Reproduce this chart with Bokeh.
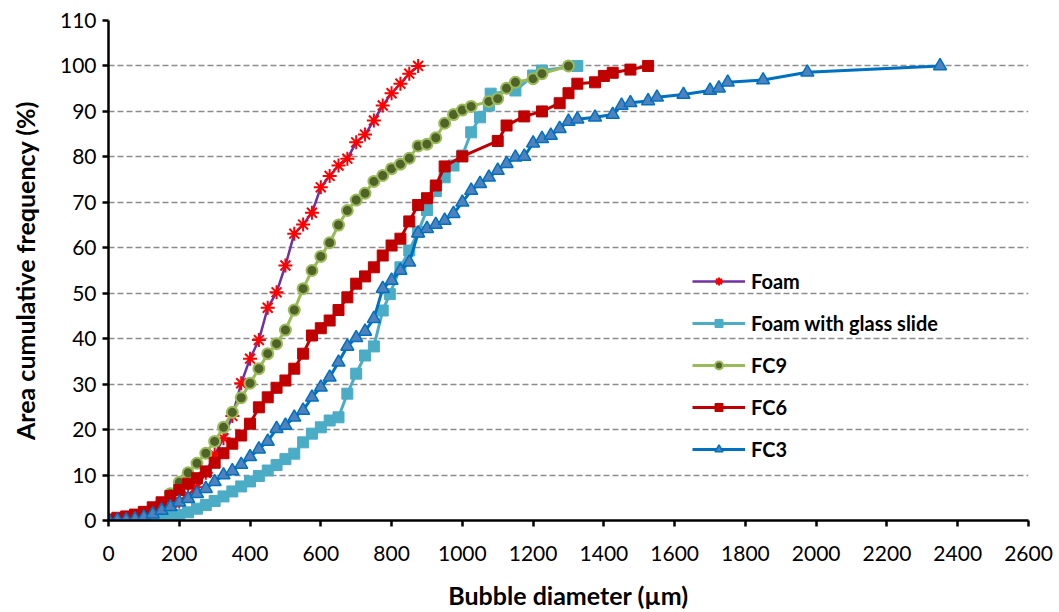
from bokeh.plotting import figure
from bokeh.models import Range1d, FixedTicker, Legend, LegendItem
from bokeh.embed import file_html
from bokeh.resources import INLINE

# ---------------- data ----------------
x_ticks = [0, 200, 400, 600, 800, 1000, 1200, 1400, 1600, 1800, 2000, 2200, 2400, 2600]
y_ticks = [0, 10, 20, 30, 40, 50, 60, 70, 80, 90, 100, 110]

foam_x = [0, 25, 50, 75, 100, 125, 150, 175, 200, 225, 250, 275, 300, 325, 350, 375,
          400, 425, 450, 475, 500, 525, 550, 575, 600, 625, 650, 675, 700, 725, 750,
          775, 800, 825, 850, 875]
foam_y = [0, 0, 0.1, 0.3, 0.7, 1.2, 2.0, 3.0, 4.2, 5.6, 7.3, 10.5, 14.5, 18.1, 23.0, 30.2,
          35.6, 39.7, 46.8, 50.2, 56.1, 63.1, 65.1, 67.7, 73.3, 75.8, 78.1, 79.6, 83.2, 84.9, 88.0,
          91.3, 94.0, 96.1, 98.3, 100]

glass_x = [0, 25, 50, 75, 100, 125, 150, 175, 200, 225, 250, 275, 300, 325, 350, 375,
           400, 425, 450, 475, 500, 525, 550, 575, 600, 625, 650, 675, 700, 725, 750,
           775, 795, 825, 850, 875, 900, 925, 950, 975, 1000, 1025, 1050, 1075, 1080,
           1150, 1200, 1225, 1325]
glass_y = [0, 0, 0.05, 0.1, 0.2, 0.3, 0.5, 0.8, 1.2, 1.8, 2.6, 3.4, 4.3, 5.3, 6.4, 7.5,
           8.6, 9.8, 11.0, 12.2, 13.5, 14.7, 17.2, 19.1, 20.5, 22.0, 22.7, 27.9, 32.3, 36.3, 38.3,
           46.2, 49.8, 55.7, 59.4, 63.5, 68.3, 72.5, 75.5, 78.1, 80.3, 85.4, 88.7, 91.3, 93.9,
           94.6, 97.9, 99.0, 100]

fc9_x = [0, 25, 50, 75, 100, 125, 150, 175, 200, 225, 250, 275, 300, 325, 350, 375,
         400, 425, 450, 475, 500, 525, 550, 575, 600, 625, 650, 675, 700, 725, 750,
         775, 800, 825, 850, 875, 900, 925, 950, 975, 1000, 1025, 1075, 1100, 1125,
         1150, 1200, 1225, 1300]
fc9_y = [0, 0.1, 0.3, 0.8, 1.5, 2.5, 3.8, 5.9, 8.4, 10.5, 12.6, 14.8, 17.4, 20.5, 23.8, 27.0,
         30.2, 33.4, 36.7, 38.9, 41.9, 46.3, 51.0, 55.0, 58.1, 61.1, 65.0, 68.2, 70.5, 72.0, 74.6,
         75.9, 77.4, 78.4, 79.7, 82.4, 82.8, 84.2, 87.4, 89.3, 90.3, 91.1, 92.2, 92.8, 95.1,
         96.4, 97.2, 98.3, 100]

fc6_x = [0, 25, 50, 75, 100, 125, 150, 175, 200, 225, 250, 275, 300, 325, 350, 375,
         400, 425, 450, 475, 500, 525, 550, 575, 600, 625, 650, 675, 700, 725, 750,
         775, 800, 825, 850, 875, 900, 925, 950, 1000, 1100, 1125, 1175, 1225, 1275,
         1300, 1325, 1375, 1400, 1425, 1475, 1525]
fc6_y = [0.2, 0.6, 0.9, 1.3, 1.9, 2.9, 4.0, 5.4, 6.7, 8.1, 9.3, 10.8, 12.7, 14.8, 16.9, 18.7,
         21.3, 24.9, 27.1, 29.2, 30.8, 33.4, 36.7, 40.7, 42.3, 44.0, 46.3, 49.1, 52.1, 53.7, 55.7,
         58.3, 60.5, 62.0, 65.8, 69.4, 70.9, 73.7, 77.9, 80.1, 83.5, 86.9, 88.9, 90.0, 91.8,
         94.0, 96.1, 96.4, 97.8, 98.5, 99.2, 100]

fc3_x = [0, 25, 50, 75, 100, 125, 150, 175, 200, 225, 250, 275, 300, 325, 350, 375,
         400, 425, 450, 475, 500, 525, 550, 575, 600, 625, 650, 675, 700, 725, 750,
         775, 800, 825, 850, 875, 900, 925, 950, 975, 1000, 1025, 1050, 1075, 1100,
         1125, 1150, 1175, 1200, 1225, 1250, 1275, 1300, 1325, 1375, 1425, 1450, 1475,
         1525, 1550, 1625, 1700, 1725, 1750, 1850, 1975, 2350]
fc3_y = [0, 0, 0.1, 0.3, 0.7, 1.4, 2.2, 3.0, 4.0, 4.8, 5.9, 7.0, 8.5, 10.0, 10.9, 12.3,
         14.0, 15.7, 17.4, 20.2, 20.9, 22.7, 24.2, 27.1, 29.3, 31.5, 34.8, 38.3, 40.2, 41.6, 44.4,
         51.0, 52.8, 55.0, 56.8, 63.2, 64.2, 65.1, 66.0, 67.5, 70.0, 72.6, 74.1, 75.5, 77.0,
         78.5, 79.9, 80.1, 83.0, 84.0, 84.7, 86.2, 87.8, 88.3, 88.7, 89.3, 91.3, 91.9,
         92.3, 93.1, 93.7, 94.6, 95.1, 96.4, 96.9, 98.6, 100]

series_names = ["Foam", "Foam with glass slide", "FC9", "FC6", "FC3"]

# ---------------- figure ----------------
FONT = "Lato"
p = figure(width=1059, height=612, output_backend="svg", toolbar_location=None,
           x_range=Range1d(0, 2600), y_range=Range1d(0, 110),
           min_border_left=108, min_border_right=31, min_border_top=20, min_border_bottom=92)
p.outline_line_color = None
p.background_fill_color = "white"
p.border_fill_color = "white"

p.xgrid.visible = False
p.ygrid.grid_line_color = "#8c8c8c"
p.ygrid.grid_line_dash = "6 3"
p.ygrid.grid_line_width = 1.5

p.xaxis.ticker = FixedTicker(ticks=x_ticks)
p.yaxis.ticker = FixedTicker(ticks=y_ticks)
for ax in (p.xaxis[0], p.yaxis[0]):
    ax.axis_line_width = 2.5
    ax.axis_line_color = "black"
    ax.major_tick_line_width = 2.5
    ax.major_tick_line_color = "black"
    ax.major_tick_out = 6
    ax.major_tick_in = 0
    ax.minor_tick_out = 0
    ax.minor_tick_in = 0
    ax.major_label_text_font = FONT
    ax.major_label_text_font_size = "21px"
    ax.major_label_text_color = "black"
    ax.axis_label_text_font = FONT
    ax.axis_label_text_font_style = "bold"
    ax.axis_label_text_font_size = "25px"
    ax.axis_label_text_color = "black"

p.xaxis.axis_label = "Bubble diameter (µm)"
p.yaxis.axis_label = "Area cumulative frequency (%)"
p.xaxis.major_label_standoff = 19
p.xaxis.axis_label_standoff = 16
p.yaxis.major_label_standoff = 6
p.yaxis.axis_label_standoff = 17

items = []

# Foam
l1 = p.line(foam_x, foam_y, line_color="#7030A0", line_width=2.5)
s1 = p.scatter(foam_x, foam_y, marker="asterisk", size=14, line_color="#FF0000", line_width=2)
items.append(LegendItem(label=series_names[0], renderers=[l1, s1]))

# Foam with glass slide
l2 = p.line(glass_x, glass_y, line_color="#4BACC6", line_width=3)
s2 = p.scatter(glass_x, glass_y, marker="square", size=11, fill_color="#4BACC6",
               line_color="#4BACC6", line_width=1)
items.append(LegendItem(label=series_names[1], renderers=[l2, s2]))

# FC9
l3 = p.line(fc9_x, fc9_y, line_color="#9BBB59", line_width=3)
s3 = p.scatter(fc9_x, fc9_y, marker="circle", size=11, fill_color="#4F6228",
               line_color="#9BBB59", line_width=2)
items.append(LegendItem(label=series_names[2], renderers=[l3, s3]))

# FC6
l4 = p.line(fc6_x, fc6_y, line_color="#C00000", line_width=3)
s4 = p.scatter(fc6_x, fc6_y, marker="square", size=11, fill_color="#C00000",
               line_color="#C00000", line_width=1)
items.append(LegendItem(label=series_names[3], renderers=[l4, s4]))

# FC3
l5 = p.line(fc3_x, fc3_y, line_color="#0070C0", line_width=3)
s5 = p.scatter(fc3_x, fc3_y, marker="triangle", size=13, fill_color="#4F81BD",
               line_color="#0070C0", line_width=1.5)
items.append(LegendItem(label=series_names[4], renderers=[l5, s5]))

legend = Legend(items=items, location=(584, 59), orientation="vertical",
                glyph_width=53, glyph_height=20, label_height=20, spacing=18,
                padding=0, margin=0, label_standoff=6,
                background_fill_alpha=0, border_line_alpha=0,
                label_text_font=FONT, label_text_font_style="bold",
                label_text_font_size="20px", label_text_color="black")
p.add_layout(legend)

open("out.html", "w").write(file_html(p, INLINE))
